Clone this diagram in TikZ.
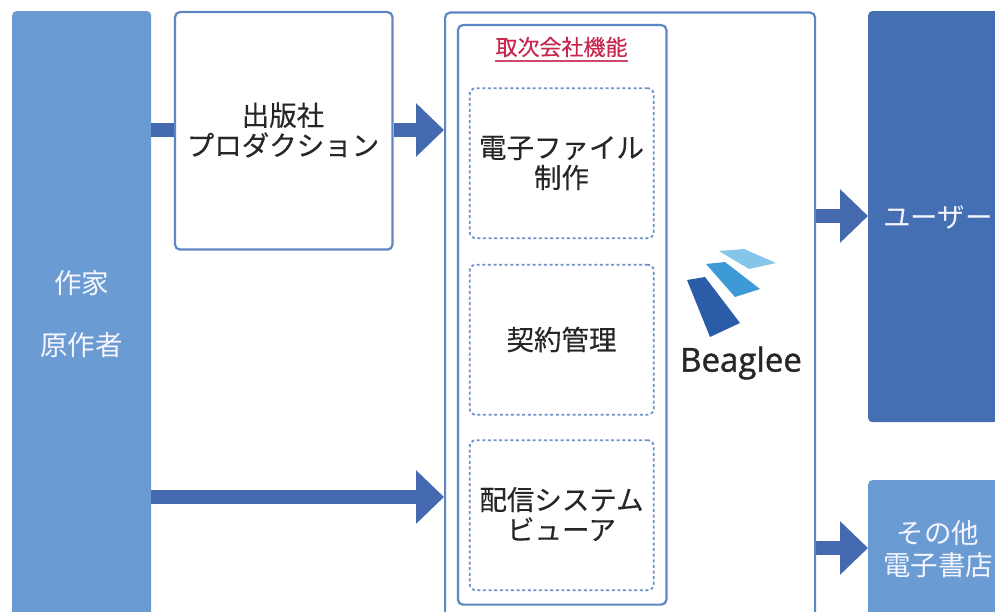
\documentclass[tikz,border=0pt]{standalone}
\usepackage{fontspec}
\setmainfont{Liberation Sans}
\newfontfamily\cjk[FakeBold=0.25]{Noto Sans CJK JP}
\newfontfamily\cjkw{Noto Sans CJK JP}
\newfontfamily\logofont[FakeBold=1.2]{Open Sans}
\usetikzlibrary{arrows.meta}
\definecolor{lightb}{HTML}{6B9BD3}
\definecolor{darkb}{HTML}{456FB3}
\definecolor{linec}{HTML}{5F86C4}
\definecolor{arrowc}{HTML}{4469AE}
\definecolor{ttlc}{HTML}{C8284E}
\tikzset{
 x=1pt,y=-1pt,
 filled/.style={rounded corners=4pt,inner sep=0,anchor=north west},
 outl/.style={draw=linec,line width=2.2pt,fill=white,rounded corners=5pt,inner sep=0,anchor=north west},
 dash box/.style={draw=linec!90,line width=1.8pt,dash pattern=on 3pt off 2.6pt,rounded corners=6pt,fill=white,inner sep=0,anchor=north west,minimum width=184pt,minimum height=150pt},
 lab/.style={font=\cjk\fontsize{27.5}{30}\selectfont,align=center,text=black!85},
 wlab/.style={font=\cjkw\fontsize{27.5}{32}\selectfont,align=center,text=white!96!blue},
 flow/.style={line width=14pt,draw=arrowc,-{Triangle[length=28pt,width=52pt]}},
}
\begin{document}
\begin{tikzpicture}
\useasboundingbox (0,0) rectangle (995,612);
\node[filled,fill=lightb,minimum width=139pt,minimum height=640pt] (author) at (12,11) {};
\node[wlab] (authort) at (81.5,283) {作家};
\node[wlab] (origt) at (81.5,345) {原作者};
\node[outl,minimum width=217.5pt,minimum height=237.5pt] (pub) at (173.9,11) {};
\node[lab] (pubt) at (283,130) {出版社\\プロダクション};
\node[outl,minimum width=370pt,minimum height=640pt] (outer) at (444,11.5) {};
\node[outl,minimum width=208.5pt,minimum height=579.5pt] (inner) at (456.8,24) {};
\node[font=\cjk\fontsize{22}{24}\selectfont,text=ttlc] (ttl) at (561.5,47) {取次会社機能};
\draw[ttlc!85,line width=1.4pt] (495,61) -- (628,61);
\node[dash box] (b1) at (468.8,87.3) {};
\node[lab] (b1t) at (561.5,163) {電子ファイル\\制作};
\node[dash box] (b2) at (468.8,263.8) {};
\node[lab] (b2t) at (561.5,339.5) {契約管理};
\node[dash box] (b3) at (468.8,439.3) {};
\node[lab] (b3t) at (561.5,514) {配信システム\\ビューア};
\node[filled,fill=darkb,minimum width=140pt,minimum height=411pt] (user) at (868,11) {};
\node[wlab] (usert) at (938,217) {ユーザー};
\node[filled,fill=lightb,minimum width=140pt,minimum height=160pt] (other) at (868,480) {};
\node[wlab] (othert) at (938,549) {その他\\電子書店};
\draw[draw=arrowc,line width=14pt] (author.east |- 0,130) -- (pub.west |- 0,130);
\draw[flow] (pub.east |- 0,130) -- (outer.west |- 0,130);
\draw[flow] (author.east |- 0,497) -- (outer.west |- 0,497);
\draw[flow] (outer.east |- 0,216) -- (user.west |- 0,216);
\draw[flow] (outer.east |- 0,548) -- (other.west |- 0,548);
% logo
\fill[fill={rgb,255:red,42;green,92;blue,168}] (687,280) -- (705,277) -- (740,323) -- (710,337) -- cycle;
\fill[fill={rgb,255:red,61;green,154;blue,214}] (706,264) -- (725,262) -- (760,289) -- (735,297) -- cycle;
\fill[fill={rgb,255:red,133;green,197;blue,234}] (719,251) -- (744,249) -- (776,263) -- (749,269) -- cycle;
\node[font=\logofont\fontsize{33}{36}\selectfont,text=black!85] (logo) at (741,363) {Beaglee};
\end{tikzpicture}
\end{document}
